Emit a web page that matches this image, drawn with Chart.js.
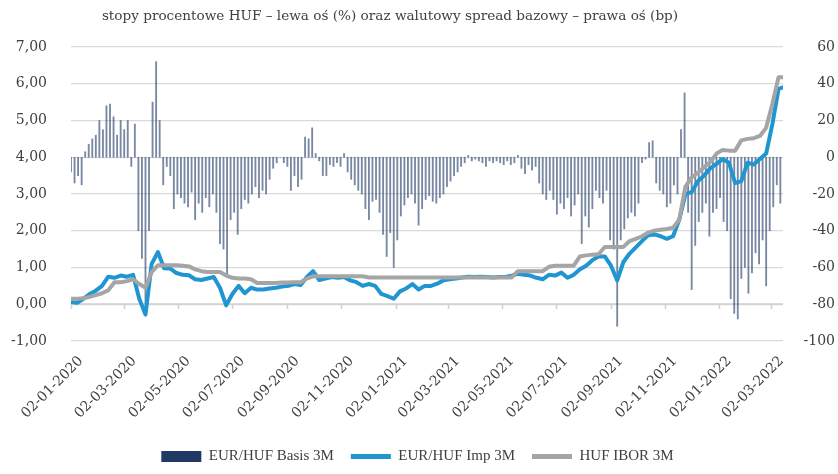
<!DOCTYPE html>
<html lang="pl">
<head>
<meta charset="utf-8">
<title>Stopy procentowe HUF</title>
<script src="https://cdn.jsdelivr.net/npm/chart.js@4.4.1/dist/chart.umd.min.js"></script>
<style>
  html, body { margin: 0; padding: 0; background: #fff; }
  canvas { display: block; }
</style>
</head>
<body>
<canvas id="wykres" width="838" height="474"></canvas>
<script>
// Dane: slupki co 4 dni, linie co 7 dni, liczone od 02-01-2020
const dataStart = '02-01-2020';
const krokSlupki = 4;
const krokLinie = 7;
const koniecOsi = 803; // ostatni dzien osi (ok. polowa marca 2022)

const etykietyX = [
  '02-01-2020', '02-03-2020', '02-05-2020', '02-07-2020', '02-09-2020', '02-11-2020',
  '02-01-2021', '02-03-2021', '02-05-2021', '02-07-2021', '02-09-2021', '02-11-2021',
  '02-01-2022', '02-03-2022'
];

// EUR/HUF Basis 3M (bp, prawa os)
const basis3M = [
  -8, -14, -10, -15, 3, 7, 10, 12, 20, 15,
  28, 29, 22, 12, 20, 15, 20, -5, 18, -40,
  -55, -80, -40, 30, 52, 20, -15, -5, -10, -28,
  -20, -22, -25, -27, -19, -34, -25, -30, -22, -27,
  -20, -30, -47, -50, -65, -34, -30, -42, -28, -23,
  -25, -20, -16, -22, -18, -20, -12, -6, -3, 0,
  -3, -5, -18, -10, -16, -12, 11, 10, 16, 2,
  -2, -10, -10, -4, -5, -3, -5, 2, -8, -12,
  -15, -18, -20, -28, -34, -24, -23, -30, -42, -54,
  -41, -60, -45, -32, -26, -22, -20, -25, -37, -28,
  -23, -21, -24, -25, -22, -20, -16, -13, -10, -8,
  -5, -3, 1, -2, -1, -2, -3, -5, -2, -3,
  -2, -3, -4, -2, -4, -3, 1, -6, -9, -4,
  -7, -5, -14, -20, -23, -18, -23, -31, -25, -28,
  -22, -32, -26, -20, -47, -32, -38, -28, -18, -22,
  -25, -18, -45, -50, -92, -45, -39, -33, -30, -32,
  -25, -3, -1, 8, 9, -14, -18, -20, -27, -25,
  -15, -20, 15, 35, -30, -72, -48, -35, -30, -25,
  -43, -30, -28, -22, -35, -40, -77, -85, -88, -66,
  -60, -74, -63, -52, -58, -45, -70, -40, -27, -15,
  -25
];

// EUR/HUF Imp 3M (%, lewa os)
const imp3M = [
  0.06, 0.04, 0.15, 0.28, 0.37, 0.5, 0.75, 0.72, 0.78, 0.75,
  0.8, 0.15, -0.28, 1.1, 1.42, 0.98, 0.97, 0.85, 0.8, 0.79,
  0.68, 0.66, 0.7, 0.74, 0.45, -0.03, 0.28, 0.5, 0.3, 0.45,
  0.4, 0.4, 0.43, 0.45, 0.48, 0.5, 0.55, 0.52, 0.74, 0.9,
  0.66, 0.7, 0.74, 0.72, 0.74, 0.65, 0.6, 0.5, 0.55, 0.5,
  0.28, 0.22, 0.15, 0.35, 0.43, 0.55, 0.4, 0.5, 0.5, 0.56,
  0.65, 0.68, 0.7, 0.73, 0.75, 0.74, 0.75, 0.74, 0.73, 0.74,
  0.74, 0.78, 0.83, 0.8, 0.78, 0.72, 0.68, 0.8, 0.78, 0.86,
  0.72, 0.8, 0.95, 1.05, 1.2, 1.3, 1.3, 1.05, 0.65, 1.15,
  1.38, 1.55, 1.72, 1.88, 1.9, 1.85, 1.78, 1.85, 2.3, 3.0,
  3.05, 3.35, 3.5, 3.7, 3.82, 3.95, 3.85, 3.3, 3.35, 3.85,
  3.8, 3.95, 4.1, 4.9, 5.86, 5.92
];

// HUF IBOR 3M (%, lewa os)
const ibor3M = [
  0.15, 0.15, 0.16, 0.2, 0.25, 0.3, 0.38, 0.6, 0.6, 0.63,
  0.68, 0.55, 0.45, 0.88, 1.06, 1.06, 1.06, 1.06, 1.05, 1.03,
  0.95, 0.9, 0.88, 0.88, 0.88, 0.78, 0.72, 0.7, 0.7, 0.68,
  0.58, 0.58, 0.58, 0.58, 0.59, 0.59, 0.6, 0.6, 0.7, 0.76,
  0.76, 0.76, 0.76, 0.76, 0.76, 0.76, 0.76, 0.76, 0.73, 0.73,
  0.73, 0.73, 0.73, 0.73, 0.73, 0.73, 0.73, 0.73, 0.73, 0.73,
  0.73, 0.73, 0.73, 0.73, 0.73, 0.73, 0.73, 0.73, 0.73, 0.73,
  0.73, 0.73, 0.9, 0.9, 0.9, 0.9, 0.9, 1.02, 1.05, 1.05,
  1.05, 1.05, 1.3, 1.33, 1.35, 1.36, 1.56, 1.56, 1.56, 1.56,
  1.72, 1.78, 1.85, 1.95, 2.0, 2.03, 2.05, 2.08, 2.3, 3.2,
  3.45, 3.58, 3.73, 3.87, 4.1, 4.2, 4.18, 4.18, 4.46, 4.5,
  4.52, 4.58, 4.8, 5.45, 6.18, 6.18
];

const kolorTekstu = '#404040';
const fontOsi = { family: 'DejaVu Serif', size: 14 };

// dzien od poczatku osi dla daty w formacie dd-mm-rrrr
function dzienOsi(tekst) {
  const [d, m, r] = tekst.split('-').map(Number);
  const [d0, m0, r0] = dataStart.split('-').map(Number);
  return Math.round((Date.UTC(r, m - 1, d) - Date.UTC(r0, m0 - 1, d0)) / 86400000);
}
const dniEtykiet = etykietyX.map(dzienOsi);

// Os pozioma w Excelu przecina lewa os na 0 - linia z kreskami
const osZero = {
  id: 'osZero',
  beforeDatasetsDraw(chart) {
    const { ctx, chartArea, scales } = chart;
    const y = Math.round(scales.y.getPixelForValue(0));
    ctx.save();
    ctx.strokeStyle = '#d0d0d0';
    ctx.lineWidth = 1.5;
    ctx.beginPath();
    ctx.moveTo(chartArea.left, y);
    ctx.lineTo(chartArea.right, y);
    scales.x.ticks.forEach(t => {
      const x = Math.round(scales.x.getPixelForValue(t.value)) + 0.5;
      ctx.moveTo(x, y);
      ctx.lineTo(x, y + 5);
    });
    ctx.stroke();
    ctx.restore();
  }
};

// Tytul wyrownany jak w oryginale
const tytul = {
  id: 'tytul',
  afterDraw(chart) {
    const ctx = chart.ctx;
    ctx.save();
    ctx.fillStyle = kolorTekstu;
    ctx.font = '13.6px "DejaVu Serif"';
    ctx.textAlign = 'center';
    ctx.textBaseline = 'middle';
    ctx.fillText('stopy procentowe HUF – lewa oś (%) oraz walutowy spread bazowy – prawa oś (bp)', 390, 16);
    ctx.restore();
  }
};

new Chart(document.getElementById('wykres'), {
  type: 'bar',
  data: {
    datasets: [
      {
        type: 'bar',
        label: 'EUR/HUF Basis 3M',
        yAxisID: 'y2',
        data: basis3M.map((v, i) => ({ x: i * krokSlupki, y: v })),
        backgroundColor: 'rgba(31, 56, 100, 0.6)',
        barThickness: 1.2,
        order: 2,
        kolorLegendy: '#1f3864'
      },
      {
        type: 'line',
        label: 'EUR/HUF Imp 3M',
        yAxisID: 'y',
        data: imp3M.map((v, i) => ({ x: i * krokLinie, y: v })),
        borderColor: '#1f96d1',
        borderWidth: 4,
        pointRadius: 0,
        borderJoinStyle: 'round',
        order: 1,
        kolorLegendy: '#1f96d1'
      },
      {
        type: 'line',
        label: 'HUF IBOR 3M',
        yAxisID: 'y',
        data: ibor3M.map((v, i) => ({ x: i * krokLinie, y: v })),
        borderColor: '#a5a5a5',
        borderWidth: 4,
        pointRadius: 0,
        borderJoinStyle: 'round',
        order: 0,
        kolorLegendy: '#a5a5a5'
      }
    ]
  },
  options: {
    responsive: false,
    animation: false,
    layout: { padding: { top: 47, right: 3, bottom: 0, left: 0 } },
    plugins: {
      title: { display: false },
      tooltip: { enabled: false },
      legend: {
        position: 'bottom',
        labels: {
          usePointStyle: true,
          pointStyleWidth: 40,
          boxHeight: 11,
          padding: 17,
          color: kolorTekstu,
          font: { family: 'Liberation Serif', size: 15 },
          sort: (a, b) => a.datasetIndex - b.datasetIndex,
          generateLabels(chart) {
            return chart.data.datasets.map((ds, i) => ({
              text: ds.label,
              datasetIndex: i,
              fillStyle: ds.kolorLegendy,
              strokeStyle: ds.kolorLegendy,
              lineWidth: ds.type === 'line' ? 5 : 0,
              pointStyle: ds.type === 'line' ? 'line' : 'rect',
              fontColor: kolorTekstu,
              hidden: false
            }));
          }
        }
      }
    },
    scales: {
      x: {
        type: 'linear',
        offset: false,
        min: 0,
        max: koniecOsi,
        afterBuildTicks(s) { s.ticks = dniEtykiet.map(v => ({ value: v })); },
        afterFit(s) {
          s.height = 91;
          s.paddingLeft = 0;
          s.paddingRight = 0;
        },
        ticks: {
          autoSkip: false,
          minRotation: 45,
          maxRotation: 45,
          padding: 4,
          labelOffset: 10,
          color: kolorTekstu,
          font: fontOsi,
          callback: (v, i) => etykietyX[i]
        },
        grid: { display: false },
        border: { display: false }
      },
      y: {
        position: 'left',
        min: -1,
        max: 7,
        afterFit(s) { s.width = 71; },
        ticks: {
          stepSize: 1,
          padding: 24,
          color: kolorTekstu,
          font: fontOsi,
          callback: v => v.toFixed(2).replace('.', ',')
        },
        grid: { color: '#d9d9d9', lineWidth: 1.3, drawTicks: false },
        border: { display: false }
      },
      y2: {
        position: 'right',
        min: -100,
        max: 60,
        afterFit(s) { s.width = 52; },
        ticks: {
          stepSize: 20,
          crossAlign: 'far',
          color: kolorTekstu,
          font: fontOsi
        },
        grid: { display: false },
        border: { display: false }
      }
    }
  },
  plugins: [osZero, tytul]
});
</script>
</body>
</html>
